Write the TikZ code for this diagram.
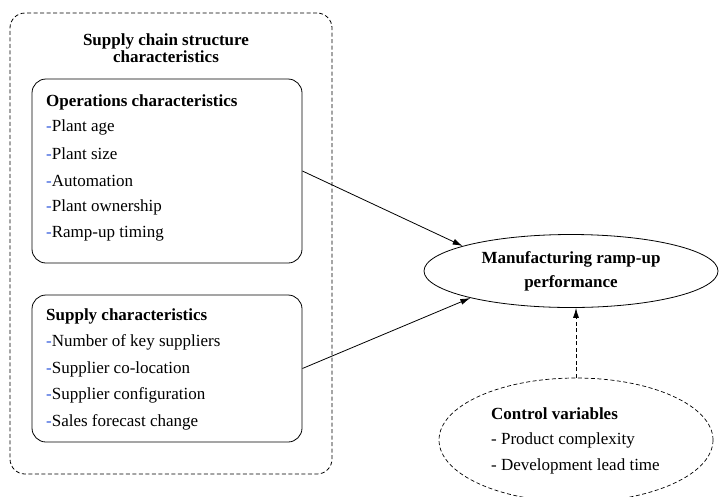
\documentclass[tikz,border=0pt]{standalone}
\usepackage{fontspec}
\setmainfont{Liberation Serif}
\usetikzlibrary{shapes.geometric,arrows.meta}
\definecolor{dashblue}{RGB}{50,90,220}
\tikzset{
  group/.style={draw, dash pattern=on 4pt off 2.5pt, rounded corners=15pt, line width=0.8pt, inner sep=0pt},
  panel/.style={draw, rounded corners=14pt, line width=0.8pt, inner sep=0pt},
  item/.style={anchor=west, inner sep=0pt, font=\fontsize{17}{18}\selectfont},
  head/.style={anchor=west, inner sep=0pt, font=\fontsize{17}{18}\selectfont\bfseries},
  link/.style={line width=0.8pt, -{Latex[length=10pt,width=6pt]}},
}
\newcommand{\bd}{\textcolor{dashblue}{-}}
\begin{document}
\begin{tikzpicture}[x=1pt,y=-1pt]
\useasboundingbox (0,0) rectangle (719,496);

% outer group
\node[group, minimum width=322pt, minimum height=461pt] (outer) at (171,243.5) {};
\node[align=center, inner sep=0pt, font=\fontsize{17}{16.5}\selectfont\bfseries] (title) at (166,48)
  {Supply chain structure\\characteristics};

% operations panel
\node[panel, minimum width=270pt, minimum height=184pt] (ops) at (167,171) {};
\node[head] (opsh) at (46,102) {Operations characteristics};
\node[item] (o1) at (46,127.5) {\bd Plant age};
\node[item] (o2) at (46,154) {\bd Plant size};
\node[item] (o3) at (46,180.5) {\bd Automation};
\node[item] (o4) at (46,207) {\bd Plant ownership};
\node[item] (o5) at (46,233.5) {\bd Ramp-up timing};

% supply panel
\node[panel, minimum width=270pt, minimum height=147pt] (sup) at (167,368.5) {};
\node[head] (suph) at (46,316) {Supply characteristics};
\node[item] (s1) at (46,342.5) {\bd Number of key suppliers};
\node[item] (s2) at (46,369) {\bd Supplier co-location};
\node[item] (s3) at (46,395.5) {\bd Supplier configuration};
\node[item] (s4) at (46,422) {\bd Sales forecast change};

% outcome
\node[draw, ellipse, line width=0.8pt, minimum width=294pt, minimum height=73pt, inner sep=0pt,
  align=center, font=\fontsize{17}{24}\selectfont\bfseries] (perf) at (571,271)
  {Manufacturing ramp-up\\performance};

% control variables
\node[draw, dash pattern=on 4pt off 2.5pt, ellipse, line width=0.7pt, minimum width=274pt, minimum height=124pt, inner sep=0pt] (ctrl) at (576,440) {};
\node[head] (ctrlh) at (491,414) {Control variables};
\node[item] (c1) at (491,440.5) {- Product complexity};
\node[item] (c2) at (491,466.5) {- Development lead time};

% connectors
\draw[link] (ops.east) -- (perf.167);
\draw[link] (sup.east) -- (perf.195);
\draw[link, dash pattern=on 4pt off 2.5pt] (ctrl.north) -- (ctrl.north |- perf.south);
\end{tikzpicture}
\end{document}
